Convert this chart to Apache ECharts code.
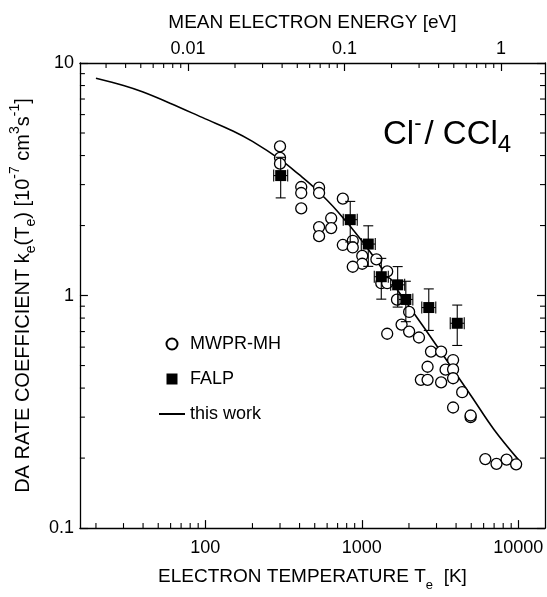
<!DOCTYPE html>
<html><head><meta charset="utf-8">
<script src="https://cdn.jsdelivr.net/npm/echarts@6/dist/echarts.min.js"></script>
<style>html,body{margin:0;padding:0;background:#fff}#c{width:547px;height:597px}</style>
</head><body><div id="c"></div>
<script>
// ---- data ----
const curveT = [20, 30, 40, 60, 100, 150, 200, 300, 400, 500, 700, 1000, 1500, 2000, 3000, 5000, 7000, 10000];
const curveK = [8.6, 8.0, 7.5, 6.7, 5.75, 5.1, 4.6, 3.85, 3.3, 2.9, 2.3, 1.72, 1.18, 0.90, 0.61, 0.37, 0.265, 0.197];

const mwprT = [300, 300, 300, 410, 410, 410, 533, 533, 533, 533, 637, 637, 756, 756, 875, 875, 1006, 1006, 875, 1239,
  1452, 1331, 1452, 1677, 2005, 1794, 2005, 2317, 1452, 2766, 3211, 3828, 2630, 3428, 3828, 2383, 2630, 3211, 3828, 4376,
  3828, 4955, 4955, 6150, 7250, 8410, 9680];
const mwprK = [4.38, 3.91, 3.69, 2.93, 2.76, 2.37, 2.91, 2.76, 1.97, 1.80, 2.15, 1.95, 2.61, 1.65, 1.72, 1.61, 1.48, 1.37, 1.33, 1.43,
  1.27, 1.13, 1.13, 0.96, 0.85, 0.75, 0.70, 0.66, 0.685, 0.574, 0.574, 0.528, 0.494, 0.48, 0.481, 0.434, 0.434, 0.423, 0.441, 0.384,
  0.33, 0.30, 0.305, 0.198, 0.189, 0.197, 0.188];

const falpT = [303, 843, 1099, 1331, 1694, 1910, 2677, 4069];
const falpK = [3.28, 2.12, 1.665, 1.205, 1.112, 0.962, 0.888, 0.760];
const falpErr = [0.65, 0.42, 0.33, 0.24, 0.22, 0.19, 0.18, 0.15];

const xTickLabels = [100, 1000, 10000];
const eTickLabels = [0.01, 0.1, 1];
const yTickLabels = [0.1, 1, 10];

// axis ranges
const T_MIN = 15.8, T_MAX = 14800, K_MIN = 0.1, K_MAX = 10;
const E_PER_K = 1.5 * 8.617333e-5;   // mean energy = 3/2 kT  (eV per K)

const FONT = '"Liberation Sans", Arial, Helvetica, sans-serif';

function isShown(list, v) {
  return list.some(t => Math.abs(Math.log10(v) - Math.log10(t)) < 1e-6);
}
function fmt(v) { return String(+v.toPrecision(3)); }

// minor tick positions (2..9 in each decade)
function minors(lo, hi) {
  const out = [];
  for (let d = Math.pow(10, Math.floor(Math.log10(lo))); d < hi; d *= 10) {
    for (let m = 2; m <= 9; m++) { const v = +(m * d).toPrecision(6); if (v > lo && v < hi) out.push(v); }
  }
  return out;
}
const minorT = minors(T_MIN, T_MAX);
const minorE = minors(T_MIN * E_PER_K, T_MAX * E_PER_K);
const minorK = minors(K_MIN, K_MAX);

const chart = echarts.init(document.getElementById('c'), null, { renderer: 'canvas' });

const axisLineStyle = { color: '#000', width: 1.3 };
const labelStyle = { color: '#000', fontSize: 18, fontFamily: FONT };

const option = {
  animation: false,
  backgroundColor: '#fff',
  textStyle: { fontFamily: FONT },
  grid: { left: 71, right: 2, top: 63, bottom: 58, containLabel: false },
  title: {
    text: '{a|Cl}{s|-}{a|/ CCl}{b|4}',
    left: 378, top: 108,
    textStyle: {
      fontWeight: 'normal',
      rich: {
        a: { fontSize: 33, fontWeight: 'normal', fontFamily: FONT, color: '#000', lineHeight: 44 },
        s: { fontSize: 22, fontWeight: 'normal', fontFamily: FONT, color: '#000', lineHeight: 22, verticalAlign: 'top', padding: [0, 3, 0, 0] },
        b: { fontSize: 24, fontWeight: 'normal', fontFamily: FONT, color: '#000', lineHeight: 24, verticalAlign: 'bottom' }
      }
    }
  },
  legend: {
    orient: 'vertical',
    left: 153, top: 330,
    itemWidth: 26, itemHeight: 11, itemGap: 17,
    textStyle: { fontSize: 18, fontFamily: FONT, color: '#000' },
    data: [
      { name: 'MWPR-MH', icon: 'circle' },
      { name: 'FALP', icon: 'path://M0,0L10,0L10,10L0,10Z' },
      { name: 'this work' }
    ]
  },
  xAxis: [
    {
      type: 'log', position: 'bottom', min: T_MIN, max: T_MAX,
      axisLine: { show: true, lineStyle: axisLineStyle },
      axisTick: { show: true, inside: true, length: 8, lineStyle: { color: '#000', width: 1.2 } },
      axisLabel: Object.assign({ margin: 11, showMinLabel: false, showMaxLabel: false,
        formatter: v => isShown(xTickLabels, v) ? fmt(v) : '' }, labelStyle),
      splitLine: { show: false },
      name: 'ELECTRON TEMPERATURE T{sub|e}  [K]',
      nameLocation: 'middle', nameGap: 32,
      nameTextStyle: { fontSize: 19, fontFamily: FONT, color: '#000', lineHeight: 30,
        rich: { sub: { fontSize: 13, fontFamily: FONT, color: '#000', lineHeight: 13, verticalAlign: 'bottom' } } }
    },
    {
      type: 'log', position: 'top', min: T_MIN * E_PER_K, max: T_MAX * E_PER_K,
      axisLine: { show: true, lineStyle: axisLineStyle },
      axisTick: { show: true, inside: true, length: 8, lineStyle: { color: '#000', width: 1.2 } },
      axisLabel: Object.assign({ margin: 5, showMinLabel: false, showMaxLabel: false,
        formatter: v => isShown(eTickLabels, v) ? fmt(v) : '' }, labelStyle),
      splitLine: { show: false },
      name: 'MEAN ELECTRON ENERGY [eV]',
      nameLocation: 'middle', nameGap: 29,
      nameTextStyle: { fontSize: 19, fontFamily: FONT, color: '#000', lineHeight: 22 }
    }
  ],
  yAxis: [
    {
      type: 'log', position: 'left', min: K_MIN, max: K_MAX,
      axisLine: { show: true, lineStyle: axisLineStyle },
      axisTick: { show: true, inside: true, length: 8, lineStyle: { color: '#000', width: 1.2 } },
      axisLabel: Object.assign({ margin: 6, formatter: v => isShown(yTickLabels, v) ? fmt(v) : '' }, labelStyle),
      splitLine: { show: false },
      name: 'DA RATE COEFFICIENT k{sub|e}(T{sub|e}) [10{sup|-7} cm{sup|3}s{sup|-1}]',
      nameLocation: 'middle', nameRotate: 90, nameGap: 21,
      nameTextStyle: { fontSize: 20, fontFamily: FONT, color: '#000', lineHeight: 30,
        rich: {
          sub: { fontSize: 14, fontFamily: FONT, color: '#000', lineHeight: 14, verticalAlign: 'bottom' },
          sup: { fontSize: 14, fontFamily: FONT, color: '#000', lineHeight: 14, verticalAlign: 'top' }
        } }
    },
    {
      type: 'log', position: 'right', min: K_MIN, max: K_MAX,
      axisLine: { show: true, lineStyle: axisLineStyle },
      axisTick: { show: true, inside: true, length: 8, lineStyle: { color: '#000', width: 1.2 } },
      axisLabel: { show: false },
      splitLine: { show: false }
    }
  ],
  series: [
    {
      // minor ticks on all four sides
      type: 'custom', name: 'ticks', silent: true, z: 1,
      xAxisIndex: 0, yAxisIndex: 0,
      data: [[T_MIN, K_MIN]],
      renderItem: (params, api) => {
        const ch = [];
        const ls = { stroke: '#000', lineWidth: 1.1 };
        const bl = api.coord([T_MIN, K_MIN]);
        const tr = api.coord([T_MAX, K_MAX]);
        const L = 5;
        minorT.forEach(v => { const x = api.coord([v, K_MIN])[0];
          ch.push({ type: 'line', shape: { x1: x, y1: bl[1], x2: x, y2: bl[1] - L }, style: ls }); });
        minorE.forEach(e => { const x = api.coord([e / E_PER_K, K_MIN])[0];
          ch.push({ type: 'line', shape: { x1: x, y1: tr[1], x2: x, y2: tr[1] + L }, style: ls }); });
        minorK.forEach(v => { const y = api.coord([T_MIN, v])[1];
          ch.push({ type: 'line', shape: { x1: bl[0], y1: y, x2: bl[0] + L, y2: y }, style: ls });
          ch.push({ type: 'line', shape: { x1: tr[0], y1: y, x2: tr[0] - L, y2: y }, style: ls }); });
        return { type: 'group', children: ch };
      }
    },
    {
      name: 'this work', type: 'line', xAxisIndex: 0, yAxisIndex: 0, z: 2,
      data: curveT.map((t, i) => [t, curveK[i]]),
      smooth: 0.35, symbol: 'none', showSymbol: false,
      lineStyle: { color: '#000', width: 1.6 },
      itemStyle: { color: 'rgba(0,0,0,0)', borderWidth: 0 }
    },
    {
      name: 'MWPR-MH', type: 'scatter', xAxisIndex: 0, yAxisIndex: 0, z: 3,
      data: mwprT.map((t, i) => [t, mwprK[i]]),
      symbol: 'circle', symbolSize: 11,
      itemStyle: { color: '#fff', borderColor: '#000', borderWidth: 1.3, opacity: 1 }
    },
    {
      name: 'FALP-err', type: 'custom', xAxisIndex: 0, yAxisIndex: 0, z: 4, silent: true,
      data: falpT.map((t, i) => [t, falpK[i], falpErr[i]]),
      encode: { x: 0, y: 1 },
      renderItem: (params, api) => {
        const t = api.value(0), k = api.value(1), e = api.value(2);
        const c = api.coord([t, k]);
        const top = api.coord([t, k + e]);
        const bot = api.coord([t, k - e]);
        const ls = { stroke: '#000', lineWidth: 1.1 };
        const cw = 5, hx = 7, hh = 6;
        return { type: 'group', children: [
          { type: 'line', shape: { x1: c[0], y1: top[1], x2: c[0], y2: bot[1] }, style: ls },
          { type: 'line', shape: { x1: c[0] - cw, y1: top[1], x2: c[0] + cw, y2: top[1] }, style: ls },
          { type: 'line', shape: { x1: c[0] - cw, y1: bot[1], x2: c[0] + cw, y2: bot[1] }, style: ls },
          { type: 'line', shape: { x1: c[0] - hx, y1: c[1], x2: c[0] + hx, y2: c[1] }, style: ls },
          { type: 'line', shape: { x1: c[0] - hx, y1: c[1] - hh, x2: c[0] - hx, y2: c[1] + hh }, style: ls },
          { type: 'line', shape: { x1: c[0] + hx, y1: c[1] - hh, x2: c[0] + hx, y2: c[1] + hh }, style: ls }
        ] };
      }
    },
    {
      name: 'FALP', type: 'scatter', xAxisIndex: 0, yAxisIndex: 0, z: 5,
      data: falpT.map((t, i) => [t, falpK[i]]),
      symbol: 'rect', symbolSize: 11,
      itemStyle: { color: '#000', opacity: 1 }
    }
  ]
};
chart.setOption(option);
</script>
</body></html>
